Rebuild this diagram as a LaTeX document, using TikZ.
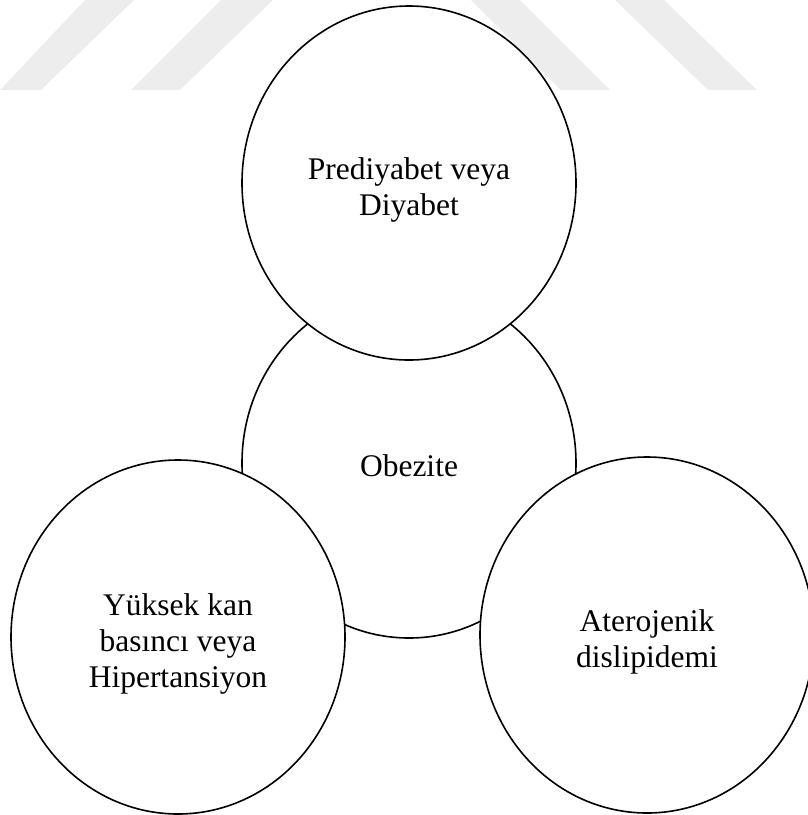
\documentclass[tikz,border=0pt]{standalone}
\usepackage{fontspec}
\setmainfont{Liberation Serif}
\usetikzlibrary{shapes.geometric}
\begin{document}
\begin{tikzpicture}[x=1pt,y=-1pt,
  blob/.style={ellipse,draw=black,line width=1.6pt,fill=white,inner sep=0pt,
    minimum width=334pt,minimum height=354pt},
  txt/.style={align=center,inner sep=0pt,yshift=-7pt,
    font=\fontsize{31.5}{36}\selectfont},
  wm/.style={fill=black!7,draw=none}]
\useasboundingbox (0,0) rectangle (807,815);
% faint watermark stripes
\fill[wm] (0,90) -- (41,90) -- (134,0) -- (85,0) -- cycle;
\fill[wm] (131,90) -- (180,90) -- (273,0) -- (221,0) -- cycle;
\fill[wm] (561,90) -- (610,90) -- (520,0) -- (471,0) -- cycle;
\fill[wm] (708,90) -- (757,90) -- (664,0) -- (615,0) -- cycle;
% circles
\node[blob,minimum height=350pt] (obez) at (409,463) {};
\node[txt,yshift=4pt] (obezt) at (obez.center) {Obezite};
\node[blob] (pred) at (409,183) {};
\node[txt] (predt) at (pred.center) {Prediyabet veya\\Diyabet};
\node[blob] (yuk) at (178,637) {};
\node[txt] (yukt) at (yuk.center) {Yüksek kan\\basıncı veya\\Hipertansiyon};
\node[blob,minimum height=356pt] (ater) at (647,635) {};
\node[txt] (atert) at (ater.center) {Aterojenik\\dislipidemi};
\end{tikzpicture}
\end{document}
